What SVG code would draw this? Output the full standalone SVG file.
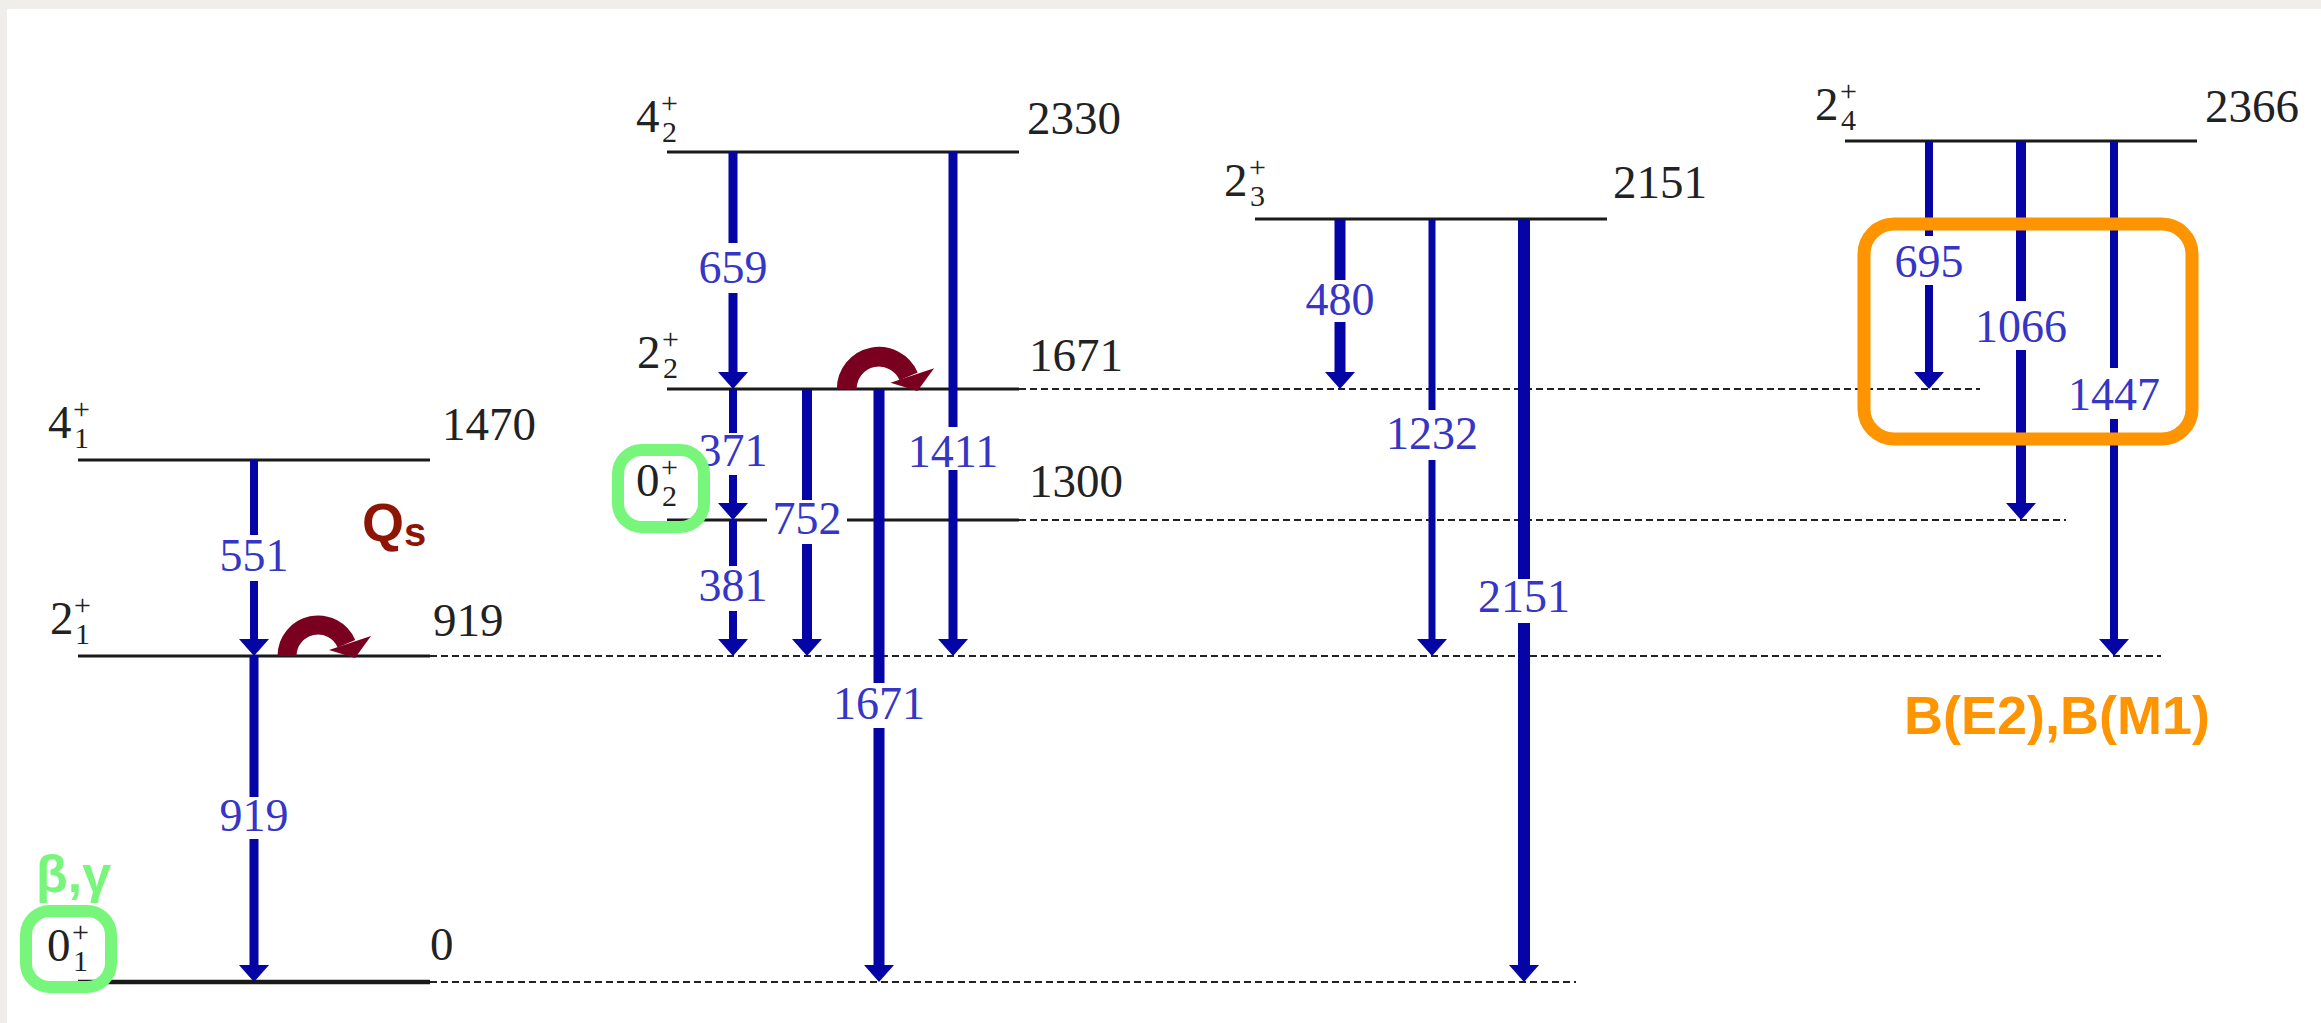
<svg xmlns="http://www.w3.org/2000/svg" xmlns:xlink="http://www.w3.org/1999/xlink" width="2321" height="1023" viewBox="0 0 2321 1023" font-family="'Liberation Serif', 'Times New Roman', serif">
<style>
.lvl{stroke:#1a1a1a;stroke-width:3;fill:none}
.gnd{stroke:#1a1a1a;stroke-width:4.5;fill:none}
.dash{stroke:#222;stroke-width:2;stroke-dasharray:7 4;fill:none}
.g{stroke:#0505a5;fill:none}
.ah{fill:#0505a5}
.lab{font-family:'Liberation Serif','Times New Roman',serif;font-size:46px;fill:#3535c6;text-anchor:middle}
.en{font-family:'Liberation Serif','Times New Roman',serif;font-size:47px;fill:#222}
.jp{font-family:'Liberation Serif','Times New Roman',serif;font-size:47px;fill:#222}
.sm{font-family:'Liberation Serif','Times New Roman',serif;font-size:30px;fill:#222}
.rot{fill:none;stroke:#7a0020;stroke-width:19}
.roth{fill:#7a0020}
.gbox{fill:none;stroke:#78f67b;stroke-width:12}
.obox{fill:none;stroke:#fd9400;stroke-width:13}
.ann{font-family:'Liberation Sans',Arial,sans-serif;font-weight:bold}
</style>
<defs>
<path id="ah" d="M-15,-17 L15,-17 L0,0 Z"/>
<g id="rotarrow">
<path class="rot" d="M-31,0 A31,31 0 0 1 28.5,-12.2"/>
<path class="roth" d="M11,-6 L53,-20 L37,2 Z"/>
</g>
</defs>
<rect x="0" y="0" width="2321" height="1023" fill="#efeeeb"/>
<rect x="7" y="9" width="2314" height="1014" fill="#ffffff"/>

<g id="dashed-lines">
<line class="dash" x1="430" y1="656" x2="2161" y2="656"/>
<line class="dash" x1="430" y1="982" x2="1576" y2="982"/>
<line class="dash" x1="1019" y1="389" x2="1980" y2="389"/>
<line class="dash" x1="1019" y1="520" x2="2066" y2="520"/>
</g>

<g id="level-4-1">
<line class="lvl" x1="78" y1="460" x2="430" y2="460"/>
<text class="jp" x="48" y="438">4</text><text class="sm" x="73" y="419">+</text><text class="sm" x="74" y="448">1</text>
<text class="en" x="442" y="440">1470</text>
</g>
<g id="level-2-1">
<line class="lvl" x1="78" y1="656" x2="430" y2="656"/>
<text class="jp" x="50" y="634">2</text><text class="sm" x="74" y="615">+</text><text class="sm" x="75" y="644">1</text>
<text class="en" x="433" y="636">919</text>
</g>
<g id="level-0-1">
<line class="gnd" x1="78" y1="982" x2="430" y2="982"/>
<text class="jp" x="47" y="961">0</text><text class="sm" x="72" y="942">+</text><text class="sm" x="73" y="971">1</text>
<text class="en" x="430" y="960">0</text>
</g>
<g id="level-4-2">
<line class="lvl" x1="667" y1="152" x2="1019" y2="152"/>
<text class="jp" x="636" y="132">4</text><text class="sm" x="661" y="113">+</text><text class="sm" x="662" y="142">2</text>
<text class="en" x="1027" y="134">2330</text>
</g>
<g id="level-2-2">
<line class="lvl" x1="667" y1="389" x2="1019" y2="389"/>
<text class="jp" x="637" y="368">2</text><text class="sm" x="662" y="349">+</text><text class="sm" x="663" y="378">2</text>
<text class="en" x="1029" y="371">1671</text>
</g>
<g id="level-0-2">
<line class="lvl" x1="667" y1="520" x2="767" y2="520"/>
<line class="lvl" x1="847" y1="520" x2="1019" y2="520"/>
<text class="jp" x="636" y="496">0</text><text class="sm" x="661" y="477">+</text><text class="sm" x="662" y="506">2</text>
<text class="en" x="1029" y="497">1300</text>
</g>
<g id="level-2-3">
<line class="lvl" x1="1255" y1="219" x2="1607" y2="219"/>
<text class="jp" x="1224" y="196">2</text><text class="sm" x="1249" y="177">+</text><text class="sm" x="1250" y="206">3</text>
<text class="en" x="1613" y="198">2151</text>
</g>
<g id="level-2-4">
<line class="lvl" x1="1845" y1="141" x2="2197" y2="141"/>
<text class="jp" x="1815" y="120">2</text><text class="sm" x="1840" y="101">+</text><text class="sm" x="1841" y="130">4</text>
<text class="en" x="2205" y="122">2366</text>
</g>

<g id="connectors">
<g id="g551"><line class="g" stroke-width="8" x1="254" y1="460" x2="254" y2="535"/><line class="g" stroke-width="8" x1="254" y1="581" x2="254" y2="641"/><use href="#ah" class="ah" transform="translate(254,656)"/><text class="lab" x="254" y="571">551</text></g>
<g id="g919"><line class="g" stroke-width="9" x1="254" y1="656" x2="254" y2="797"/><line class="g" stroke-width="9" x1="254" y1="839" x2="254" y2="966"/><use href="#ah" class="ah" transform="translate(254,982)"/><text class="lab" x="254" y="831">919</text></g>
<g id="g659"><line class="g" stroke-width="9" x1="733" y1="152" x2="733" y2="243"/><line class="g" stroke-width="9" x1="733" y1="293" x2="733" y2="374"/><use href="#ah" class="ah" transform="translate(733,389)"/><text class="lab" x="733" y="283">659</text></g>
<g id="g1411"><line class="g" stroke-width="9" x1="953" y1="152" x2="953" y2="427"/><line class="g" stroke-width="9" x1="953" y1="470" x2="953" y2="640"/><use href="#ah" class="ah" transform="translate(953,656)"/><text class="lab" x="953" y="467">1411</text></g>
<g id="g371"><line class="g" stroke-width="8" x1="733" y1="389" x2="733" y2="433"/><line class="g" stroke-width="8" x1="733" y1="475" x2="733" y2="505"/><use href="#ah" class="ah" transform="translate(733,520)"/><text class="lab" x="733" y="466">371</text></g>
<g id="g381"><line class="g" stroke-width="8" x1="733" y1="520" x2="733" y2="566"/><line class="g" stroke-width="8" x1="733" y1="611" x2="733" y2="640"/><use href="#ah" class="ah" transform="translate(733,656)"/><text class="lab" x="733" y="601">381</text></g>
<g id="g752"><line class="g" stroke-width="10" x1="807" y1="389" x2="807" y2="500"/><line class="g" stroke-width="10" x1="807" y1="544" x2="807" y2="640"/><use href="#ah" class="ah" transform="translate(807,656)"/><text class="lab" x="807" y="534">752</text></g>
<g id="g1671"><line class="g" stroke-width="11" x1="879" y1="389" x2="879" y2="683"/><line class="g" stroke-width="11" x1="879" y1="728" x2="879" y2="966"/><use href="#ah" class="ah" transform="translate(879,982)"/><text class="lab" x="879" y="719">1671</text></g>
<g id="g480"><line class="g" stroke-width="11" x1="1340" y1="219" x2="1340" y2="280"/><line class="g" stroke-width="11" x1="1340" y1="322" x2="1340" y2="374"/><use href="#ah" class="ah" transform="translate(1340,389)"/><text class="lab" x="1340" y="315">480</text></g>
<g id="g1232"><line class="g" stroke-width="7" x1="1432" y1="219" x2="1432" y2="410"/><line class="g" stroke-width="7" x1="1432" y1="460" x2="1432" y2="640"/><use href="#ah" class="ah" transform="translate(1432,656)"/><text class="lab" x="1432" y="449">1232</text></g>
<g id="g2151"><line class="g" stroke-width="12" x1="1524" y1="219" x2="1524" y2="579"/><line class="g" stroke-width="12" x1="1524" y1="623" x2="1524" y2="966"/><use href="#ah" class="ah" transform="translate(1524,982)"/><text class="lab" x="1524" y="612">2151</text></g>
<g id="g695"><line class="g" stroke-width="8" x1="1929" y1="141" x2="1929" y2="236"/><line class="g" stroke-width="8" x1="1929" y1="285" x2="1929" y2="374"/><use href="#ah" class="ah" transform="translate(1929,389)"/><text class="lab" x="1929" y="277">695</text></g>
<g id="g1066"><line class="g" stroke-width="10" x1="2021" y1="141" x2="2021" y2="301"/><line class="g" stroke-width="10" x1="2021" y1="350" x2="2021" y2="505"/><use href="#ah" class="ah" transform="translate(2021,520)"/><text class="lab" x="2021" y="342">1066</text></g>
<g id="g1447"><line class="g" stroke-width="8" x1="2114" y1="141" x2="2114" y2="368"/><line class="g" stroke-width="8" x1="2114" y1="419" x2="2114" y2="640"/><use href="#ah" class="ah" transform="translate(2114,656)"/><text class="lab" x="2114" y="410">1447</text></g>
</g>

<g id="annotations">
<use href="#rotarrow" transform="translate(318,656)"/>
<use href="#rotarrow" transform="translate(879,389) scale(1.04)"/>
<text class="ann" x="362" y="541" font-size="54" fill="#8e1506">Q<tspan font-size="40" dy="5">s</tspan></text>
<text class="ann" x="36" y="892" font-size="52" fill="#78f67b">β,γ</text>
<rect class="gbox" x="26" y="911" width="85" height="76" rx="24"/>
<rect class="gbox" x="618" y="450" width="86" height="77" rx="24"/>
<rect class="obox" x="1864" y="224" width="328" height="215" rx="30"/>
<text class="ann" x="1904" y="734" font-size="54" fill="#fd9400">B(E2),B(M1)</text>
</g>
</svg>
